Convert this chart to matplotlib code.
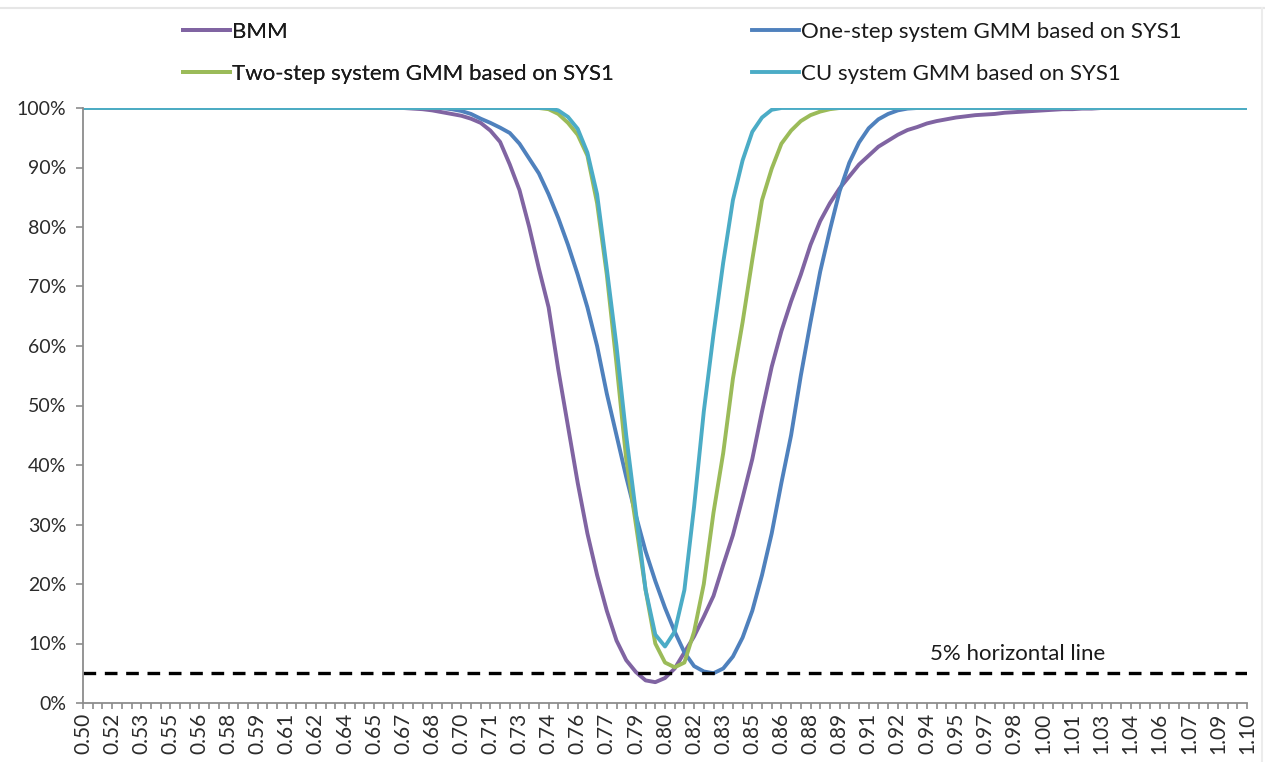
import matplotlib
matplotlib.use("Agg")
import matplotlib.pyplot as plt
from matplotlib.lines import Line2D
import numpy as np

plt.rcParams['font.family'] = ['Lato', 'DejaVu Sans']

# thresholds 0.500 .. 1.100, step 0.005 (121 categories)
thresholds = np.round(np.arange(121) * 0.005 + 0.5, 3)

# shown on every third category
tick_labels = ["0.50", "0.52", "0.53", "0.55", "0.56", "0.58", "0.59", "0.61", "0.62",
               "0.64", "0.65", "0.67", "0.68", "0.70", "0.71", "0.73", "0.74", "0.76",
               "0.77", "0.79", "0.80", "0.82", "0.83", "0.85", "0.86", "0.88", "0.89",
               "0.91", "0.92", "0.94", "0.95", "0.97", "0.98", "1.00", "1.01", "1.03",
               "1.04", "1.06", "1.07", "1.09", "1.10"]

bmm = [1.000, 1.000, 1.000, 1.000, 1.000, 1.000, 1.000, 1.000, 1.000, 1.000,
       1.000, 1.000, 1.000, 1.000, 1.000, 1.000, 1.000, 1.000, 1.000, 1.000,
       1.000, 1.000, 1.000, 1.000, 1.000, 1.000, 1.000, 1.000, 1.000, 1.000,
       1.000, 1.000, 1.000, 1.000, 0.999, 0.998, 0.996, 0.993, 0.990, 0.987,
       0.982, 0.975, 0.962, 0.943, 0.905, 0.862, 0.800, 0.730, 0.665, 0.560,
       0.465, 0.370, 0.285, 0.215, 0.155, 0.105, 0.072, 0.052, 0.038, 0.035,
       0.042, 0.058, 0.085, 0.112, 0.145, 0.180, 0.232, 0.282, 0.345, 0.410,
       0.490, 0.565, 0.625, 0.675, 0.720, 0.770, 0.810, 0.840, 0.865, 0.885,
       0.905, 0.920, 0.935, 0.945, 0.955, 0.963, 0.968, 0.974, 0.978, 0.981,
       0.984, 0.986, 0.988, 0.989, 0.990, 0.992, 0.993, 0.994, 0.995, 0.996,
       0.997, 0.998, 0.998, 0.999, 0.999, 1.000, 1.000, 1.000, 1.000, 1.000,
       1.000, 1.000, 1.000, 1.000, 1.000, 1.000, 1.000, 1.000, 1.000, 1.000,
       1.000]

one_step = [1.000, 1.000, 1.000, 1.000, 1.000, 1.000, 1.000, 1.000, 1.000, 1.000,
            1.000, 1.000, 1.000, 1.000, 1.000, 1.000, 1.000, 1.000, 1.000, 1.000,
            1.000, 1.000, 1.000, 1.000, 1.000, 1.000, 1.000, 1.000, 1.000, 1.000,
            1.000, 1.000, 1.000, 1.000, 1.000, 1.000, 1.000, 1.000, 0.998, 0.995,
            0.990, 0.982, 0.975, 0.967, 0.958, 0.940, 0.915, 0.890, 0.855, 0.815,
            0.770, 0.720, 0.665, 0.600, 0.520, 0.450, 0.380, 0.315, 0.255, 0.205,
            0.160, 0.120, 0.085, 0.062, 0.053, 0.050, 0.058, 0.078, 0.110, 0.155,
            0.215, 0.285, 0.370, 0.450, 0.550, 0.640, 0.725, 0.795, 0.860, 0.908,
            0.942, 0.966, 0.981, 0.990, 0.996, 0.999, 1.000, 1.000, 1.000, 1.000,
            1.000, 1.000, 1.000, 1.000, 1.000, 1.000, 1.000, 1.000, 1.000, 1.000,
            1.000, 1.000, 1.000, 1.000, 1.000, 1.000, 1.000, 1.000, 1.000, 1.000,
            1.000, 1.000, 1.000, 1.000, 1.000, 1.000, 1.000, 1.000, 1.000, 1.000,
            1.000]

two_step = [1.000, 1.000, 1.000, 1.000, 1.000, 1.000, 1.000, 1.000, 1.000, 1.000,
            1.000, 1.000, 1.000, 1.000, 1.000, 1.000, 1.000, 1.000, 1.000, 1.000,
            1.000, 1.000, 1.000, 1.000, 1.000, 1.000, 1.000, 1.000, 1.000, 1.000,
            1.000, 1.000, 1.000, 1.000, 1.000, 1.000, 1.000, 1.000, 1.000, 1.000,
            1.000, 1.000, 1.000, 1.000, 1.000, 1.000, 1.000, 1.000, 0.998, 0.990,
            0.975, 0.955, 0.920, 0.840, 0.720, 0.570, 0.410, 0.300, 0.190, 0.100,
            0.068, 0.060, 0.068, 0.120, 0.200, 0.320, 0.420, 0.545, 0.640, 0.745,
            0.845, 0.898, 0.940, 0.962, 0.978, 0.988, 0.994, 0.998, 1.000, 1.000,
            1.000, 1.000, 1.000, 1.000, 1.000, 1.000, 1.000, 1.000, 1.000, 1.000,
            1.000, 1.000, 1.000, 1.000, 1.000, 1.000, 1.000, 1.000, 1.000, 1.000,
            1.000, 1.000, 1.000, 1.000, 1.000, 1.000, 1.000, 1.000, 1.000, 1.000,
            1.000, 1.000, 1.000, 1.000, 1.000, 1.000, 1.000, 1.000, 1.000, 1.000,
            1.000]

cu = [1.000, 1.000, 1.000, 1.000, 1.000, 1.000, 1.000, 1.000, 1.000, 1.000,
      1.000, 1.000, 1.000, 1.000, 1.000, 1.000, 1.000, 1.000, 1.000, 1.000,
      1.000, 1.000, 1.000, 1.000, 1.000, 1.000, 1.000, 1.000, 1.000, 1.000,
      1.000, 1.000, 1.000, 1.000, 1.000, 1.000, 1.000, 1.000, 1.000, 1.000,
      1.000, 1.000, 1.000, 1.000, 1.000, 1.000, 1.000, 1.000, 1.000, 0.996,
      0.985, 0.965, 0.925, 0.855, 0.730, 0.600, 0.450, 0.320, 0.190, 0.115,
      0.095, 0.120, 0.190, 0.330, 0.490, 0.620, 0.740, 0.845, 0.912, 0.960,
      0.984, 0.997, 1.000, 1.000, 1.000, 1.000, 1.000, 1.000, 1.000, 1.000,
      1.000, 1.000, 1.000, 1.000, 1.000, 1.000, 1.000, 1.000, 1.000, 1.000,
      1.000, 1.000, 1.000, 1.000, 1.000, 1.000, 1.000, 1.000, 1.000, 1.000,
      1.000, 1.000, 1.000, 1.000, 1.000, 1.000, 1.000, 1.000, 1.000, 1.000,
      1.000, 1.000, 1.000, 1.000, 1.000, 1.000, 1.000, 1.000, 1.000, 1.000,
      1.000]

five_pct = 0.05

fig = plt.figure(figsize=(12.65, 7.62), dpi=100)
ax = fig.add_axes([83 / 1265, 1 - 703 / 762, (1247 - 83) / 1265, (703 - 108) / 762])

idx = np.arange(len(thresholds))
lw = 2.8
l_bmm, = ax.plot(idx, bmm, color='#8064A2', lw=lw, label='BMM')
l_one, = ax.plot(idx, one_step, color='#4F81BD', lw=lw, label='One-step system GMM based on SYS1')
l_two, = ax.plot(idx, two_step, color='#9BBB59', lw=lw, label='Two-step system GMM based on SYS1')
l_cu, = ax.plot(idx, cu, color='#4BACC6', lw=lw, label='CU system GMM based on SYS1')

ax.axhline(five_pct, color='black', lw=2.4, dashes=(3.8, 2.6))
ax.text(87.3, five_pct + 0.033, '5% horizontal line', fontsize=16, color='#1a1a1a',
        ha='left', va='center')

ax.set_xlim(0, len(thresholds) - 1)
ax.set_ylim(0, 1)

ax.set_xticks(idx[::3])
ax.set_xticklabels(tick_labels, rotation=90, fontsize=15, color='#2b2b2b')
ax.set_xticks(idx, minor=True)
ax.set_yticks(np.arange(0, 1.01, 0.1))
ax.set_yticklabels([f'{int(round(v * 100))}%' for v in np.arange(0, 1.01, 0.1)],
                   fontsize=14, color='#2b2b2b')

for s in ['top', 'right']:
    ax.spines[s].set_visible(False)
for s in ['left', 'bottom']:
    ax.spines[s].set_color('#8c8c8c')
    ax.spines[s].set_linewidth(1.3)
ax.tick_params(axis='x', which='both', direction='out', length=4, color='#8c8c8c', width=1.2, pad=3)
ax.tick_params(axis='y', direction='out', length=5, color='#8c8c8c', width=1.2, pad=7)

leg_kw = dict(loc='upper left', frameon=False, fontsize=16, handlelength=2.1,
              handletextpad=0.12, labelspacing=0.99, borderpad=0, borderaxespad=0)
leg1 = fig.legend(handles=[l_bmm, l_two], bbox_to_anchor=(183 / 1265, 1 - 22 / 762), **leg_kw)
fig.add_artist(leg1)
leg2 = fig.legend(handles=[l_one, l_cu], bbox_to_anchor=(752 / 1265, 1 - 22 / 762), **leg_kw)
for leg in (leg1, leg2):
    for t in leg.get_texts():
        t.set_color('#1a1a1a')

# faint frame edges of the original screenshot
fig.add_artist(Line2D([0, 1], [1 - 8 / 762, 1 - 8 / 762], color='#e6e6e6', lw=1.5))
fig.add_artist(Line2D([1262 / 1265, 1262 / 1265], [0, 1 - 8 / 762], color='#ececec', lw=1.5))

fig.savefig('out.png', dpi=100)
